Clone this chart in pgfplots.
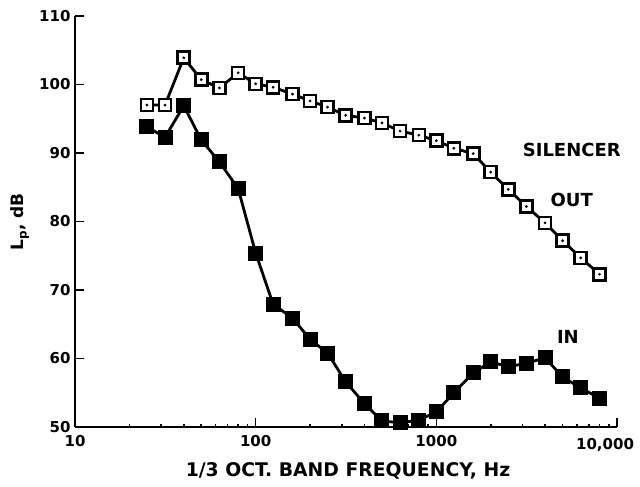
\documentclass[border=0pt]{standalone}
\usepackage{fontspec}
\setmainfont{DejaVu Sans}
\usepackage{pgfplots}
\pgfplotsset{compat=1.18}
\begin{document}
\bfseries
\begin{tikzpicture}
\useasboundingbox (-75pt,-60pt) rectangle (565pt,427pt);
\begin{axis}[
  scale only axis, width=542pt, height=411pt,
  xmode=log, xmin=10, xmax=10000, ymin=50, ymax=110,
  axis lines=left, axis line style={line width=1.8pt, -},
  xtick={10,100,1000,10000}, xticklabels={10,100,1000,},
  ytick={50,60,70,80,90,100,110},
  minor xtick={}, minor ytick={},
  log ticks with fixed point,
  tick align=inside, major tick length=9pt,
  tick style={line width=1.6pt, black},
  tick label style={font=\fontsize{15pt}{17pt}\selectfont\bfseries},
  /pgf/number format/assume math mode=true,
  xticklabel style={yshift=-5pt},
  yticklabel style={xshift=-1pt},
  clip=false,
]
\addplot[black, line width=2.8pt, mark=square*, mark size=7pt,
  mark options={fill=black, line width=1pt}] coordinates {
(25,93.8) (31.5,92.3) (40,96.9) (50,91.9) (63,88.7) (80,84.8)
(100,75.4) (125,67.9) (160,65.9) (200,62.8) (250,60.8) (315,56.6)
(400,53.4) (500,50.9) (630,50.6) (800,51.0) (1000,52.2) (1250,55.0)
(1600,57.9) (2000,59.5) (2500,58.8) (3150,59.3) (4000,60.1) (5000,57.3)
(6300,55.7) (8000,54.2)
};
\addplot[black, line width=2.8pt, mark=square*, mark size=6pt,
  mark options={fill=white, draw=black, line width=2.6pt}] coordinates {
(25,97.0) (31.5,97.0) (40,103.9) (50,100.7) (63,99.5) (80,101.7)
(100,100.1) (125,99.6) (160,98.6) (200,97.6) (250,96.7) (315,95.5)
(400,95.1) (500,94.4) (630,93.2) (800,92.6) (1000,91.8) (1250,90.7)
(1600,89.9) (2000,87.2) (2500,84.7) (3150,82.2) (4000,79.8) (5000,77.2)
(6300,74.7) (8000,72.3)
};
\addplot[only marks, mark=*, mark size=1.2pt, black] coordinates {
(25,97.0) (31.5,97.0) (40,103.9) (50,100.7) (63,99.5) (80,101.7)
(100,100.1) (125,99.6) (160,98.6) (200,97.6) (250,96.7) (315,95.5)
(400,95.1) (500,94.4) (630,93.2) (800,92.6) (1000,91.8) (1250,90.7)
(1600,89.9) (2000,87.2) (2500,84.7) (3150,82.2) (4000,79.8) (5000,77.2)
(6300,74.7) (8000,72.3)
};
\node[anchor=north, yshift=-8pt, xshift=-12pt, font=\fontsize{15pt}{17pt}\selectfont\bfseries] at (axis cs:10000,50) {10,000};
\node[font=\fontsize{18pt}{20pt}\selectfont\bfseries] at (axis cs:5620,90.4) {SILENCER};
\node[font=\fontsize{18pt}{20pt}\selectfont\bfseries] at (axis cs:5620,83.1) {OUT};
\node[font=\fontsize{18pt}{20pt}\selectfont\bfseries] at (axis cs:5350,63.1) {IN};
\end{axis}
\node[font=\fontsize{18.8pt}{21pt}\selectfont\bfseries] at (273pt,-44pt) {1/3 OCT.\ BAND FREQUENCY, Hz};
\node[rotate=90, font=\fontsize{17pt}{19pt}\selectfont\bfseries] at (-55pt,205pt) {L\textsubscript{p}, dB};
\end{tikzpicture}
\end{document}
